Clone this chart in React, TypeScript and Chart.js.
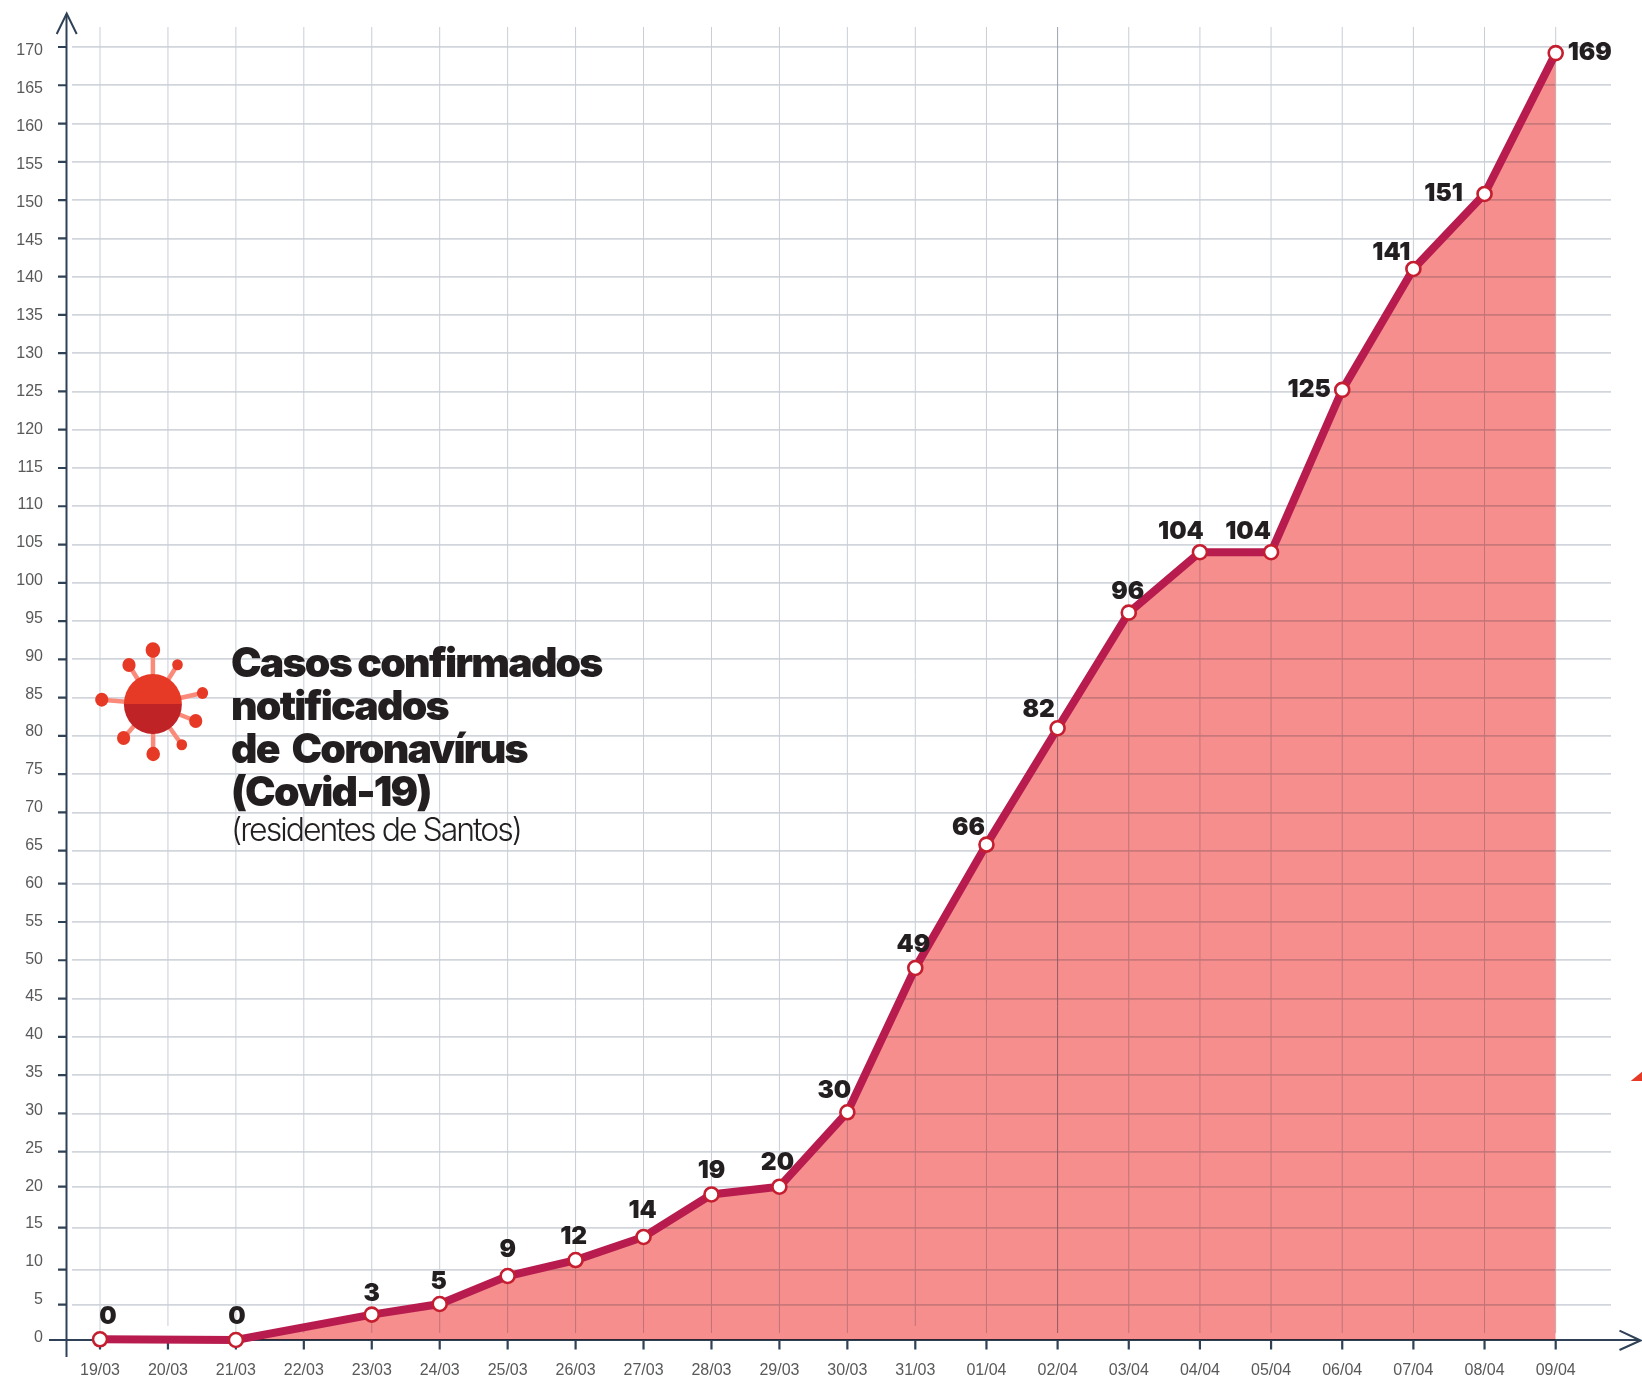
import React, { useEffect, useRef } from "react";
import { Chart, registerables, LinearScale, CategoryScale } from "chart.js";

const dates = ["19/03","20/03","21/03","22/03","23/03","24/03","25/03","26/03","27/03","28/03","29/03","30/03","31/03","01/04","02/04","03/04","04/04","05/04","06/04","07/04","08/04","09/04"];
// Heights of the points as they are plotted in the picture
const plottedCases = [0.1,null,0,null,3.6,5.1,9.1,11.15,13.9,19.05,20,30.15,49,65.8,81,96.1,104,104,125.2,141,150.8,169.2];
// Numbers printed beside the points
const printedCases = [0,null,0,null,3,5,9,12,14,19,20,30,49,66,82,96,104,104,125,141,151,169];
const titleLines = ["Casos confirmados","notificados","de  Coronavírus","(Covid-19)"];
const subtitle = "(residentes de Santos)";

// Hand-drawn axis calibration of the original artwork: [axis value, canvas pixel]
const yCalibration: [number, number][] = [[0,1340],[5,1304.7],[10,1269.7],[15,1227.7],[20,1186.7],[25,1151.7],[60,883.7],[65,850.7],[170,47],[172.6,27]];
const xCalibration: [number, number][] = [[0,100],[12,915.3],[21,1555.7]];
const labelNudges: [number, number][] = [[8,-23],[0,0],[1,-23],[0,0],[0,-21],[-1,-22],[0,-26],[-2,-23],[-1,-26],[0,-24],[-2,-24],[-13,-22],[-2,-23],[-18,-17],[-19,-19],[-1,-21],[-19,-21],[-23,-21],[-33,0],[-22,-16],[-41,0],[34,0]];

function interp(v: number, knots: [number, number][]) {
  let i = 0;
  while (i < knots.length - 2 && v > knots[i + 1][0]) i++;
  const [a, pa] = knots[i];
  const [b, pb] = knots[i + 1];
  return pa + ((v - a) / (b - a)) * (pb - pa);
}

class CalibratedY extends LinearScale {
  static id = "calibratedY";
  static defaults = LinearScale.defaults;
  getPixelForDecimal(d: number) {
    return interp(this.min + d * (this.max - this.min), yCalibration);
  }
}
class CalibratedX extends CategoryScale {
  static id = "calibratedX";
  static defaults = CategoryScale.defaults;
  getPixelForDecimal(d: number) {
    return interp(this.min + d * (this.max - this.min), xCalibration);
  }
}

const INK = "#2F4156";
const FILL_DATASET = 1;

// Registered before the filler so the area multiplies over the grid.
const multiplyFill = {
  id: "multiplyFill",
  beforeDatasetDraw(chart: any, args: any) {
    if (args.index === FILL_DATASET) chart.ctx.globalCompositeOperation = "multiply";
  },
  afterDatasetDraw(chart: any, args: any) {
    if (args.index === FILL_DATASET) chart.ctx.globalCompositeOperation = "source-over";
  },
};
Chart.register(multiplyFill);
Chart.register(...registerables, CalibratedY, CalibratedX);

const axesArt = {
  id: "axesArt",
  beforeDatasetsDraw(chart: any) {
    const { ctx, scales } = chart;
    const xs = scales.x;
    const ys = scales.y;
    const x0 = 66.5;
    const y0 = ys.getPixelForValue(0);
    ctx.save();
    xs.ticks.forEach((_: any, i: number) => {
      const px = xs.getPixelForTick(i);
      ctx.beginPath();
      ctx.lineWidth = 1;
      ctx.strokeStyle = i === 14 ? "#9AA2AE" : "#C9CED6";
      ctx.moveTo(px, 27);
      ctx.lineTo(px, i === 1 || i === 12 ? 1326 : 1333);
      ctx.stroke();
    });
    ctx.strokeStyle = INK;
    ctx.lineWidth = 2;
    ctx.beginPath();
    ctx.moveTo(x0, 14);
    ctx.lineTo(x0, 1357);
    ctx.moveTo(49, y0);
    ctx.lineTo(1640, y0);
    ctx.stroke();
    ctx.lineWidth = 2.2;
    ctx.beginPath();
    ys.ticks.forEach((t: any) => {
      if (t.value === 0) return;
      const py = ys.getPixelForValue(t.value);
      ctx.moveTo(58, py);
      ctx.lineTo(x0, py);
    });
    xs.ticks.forEach((_: any, i: number) => {
      const px = xs.getPixelForTick(i);
      ctx.moveTo(px, y0);
      ctx.lineTo(px, 1349.5);
    });
    ctx.stroke();
    ctx.lineWidth = 2;
    ctx.beginPath();
    ctx.moveTo(56.7, 34);
    ctx.lineTo(66.7, 13.5);
    ctx.lineTo(76.7, 34);
    ctx.moveTo(1619.5, 1330.7);
    ctx.lineTo(1640.5, 1340.5);
    ctx.lineTo(1619.5, 1350);
    ctx.stroke();
    ctx.restore();
  },
};

const pointLabels = {
  id: "pointLabels",
  afterDatasetsDraw(chart: any) {
    const { ctx } = chart;
    const meta = chart.getDatasetMeta(0);
    ctx.save();
    ctx.font = "900 24.5px Inter";
    ctx.fillStyle = "#231F20";
    ctx.textAlign = "center";
    ctx.textBaseline = "middle";
    printedCases.forEach((v, i) => {
      if (v === null) return;
      const p = meta.data[i];
      ctx.fillText(String(v), p.x + labelNudges[i][0], p.y + labelNudges[i][1]);
    });
    ctx.restore();
  },
};

const spikes: [number, number, number][] = [[152.9,650,7.3],[129,665,6.6],[177.5,664.7,5.3],[202.5,693,5.6],[195.7,721,6.6],[181.8,744.7,5.3],[153.2,754,6.8],[123.6,738,6.6],[101.75,699.7,6.6]];

const virusIcon = {
  id: "virusIcon",
  afterDraw(chart: any) {
    const { ctx } = chart;
    const cx = 152.9;
    const cy = 704;
    ctx.save();
    ctx.lineWidth = 4.5;
    ctx.strokeStyle = "#FA8A7A";
    spikes.forEach(([x, y]) => {
      ctx.beginPath();
      ctx.moveTo(cx, cy);
      ctx.lineTo(x, y);
      ctx.stroke();
    });
    ctx.fillStyle = "#E63A26";
    spikes.forEach(([x, y, r]) => {
      ctx.beginPath();
      ctx.ellipse(x, y, r, r * 1.05, 0, 0, Math.PI * 2);
      ctx.fill();
    });
    ctx.beginPath();
    ctx.ellipse(cx, cy, 29, 30, 0, Math.PI, Math.PI * 2);
    ctx.fill();
    ctx.fillStyle = "#BF2326";
    ctx.beginPath();
    ctx.ellipse(cx, cy, 29, 30, 0, 0, Math.PI);
    ctx.fill();
    // cropped red shape at the picture's right edge
    ctx.fillStyle = "#E63A26";
    ctx.beginPath();
    ctx.moveTo(1630.7, 1081);
    ctx.lineTo(1642, 1071.7);
    ctx.lineTo(1642, 1081);
    ctx.closePath();
    ctx.fill();
    ctx.restore();
  },
};

export default function App() {
  const ref = useRef<HTMLCanvasElement | null>(null);
  useEffect(() => {
    document.body.style.margin = "0";
    document.body.style.background = "#fff";
    const chart = new Chart(ref.current as HTMLCanvasElement, {
      type: "line",
      data: {
        labels: dates,
        datasets: [
          {
            data: plottedCases,
            order: 1,
            borderColor: "#B81C4F",
            borderWidth: 8,
            borderCapStyle: "round",
            borderJoinStyle: "miter",
            pointRadius: 7,
            pointBorderWidth: 2.6,
            pointBackgroundColor: "#FFFFFF",
            pointBorderColor: "#C41E30",
            spanGaps: true,
            tension: 0,
            fill: false,
            clip: false,
          },
          {
            data: plottedCases,
            order: 2,
            borderWidth: 0,
            pointRadius: 0,
            backgroundColor: "#F58E8D",
            spanGaps: true,
            tension: 0,
            fill: "origin",
            clip: false,
          },
        ],
      } as any,
      options: {
        animation: false,
        responsive: false,
        events: [],
        layout: { padding: { left: 0, top: 27, right: 31, bottom: 0 } },
        plugins: { legend: { display: false }, tooltip: { enabled: false }, title: { display: false } },
        scales: {
          x: {
            type: "calibratedX",
            afterFit(s: any) { s.height = 40; s.paddingLeft = 0; s.paddingRight = 0; },
            grid: { display: false },
            border: { display: false },
            ticks: {
              autoSkip: false,
              maxRotation: 0,
              padding: 13,
              color: "#58595B",
              font: { family: "'Liberation Sans'", size: 16 },
            },
          },
          y: {
            type: "calibratedY",
            position: "left",
            min: 0,
            max: 172.6,
            afterFit(s: any) { s.width = 0; s.paddingTop = 0; s.paddingBottom = 0; },
            border: { display: false },
            grid: {
              drawTicks: false,
              lineWidth: 1.7,
              color: (c: any) => (c.tick && c.tick.value === 0 ? "rgba(0,0,0,0)" : "#D2D6DC"),
            },
            ticks: { display: false, stepSize: 5, includeBounds: false, autoSkip: false },
          },
          yLabels: {
            type: "linear",
            position: "left",
            min: -0.33,
            max: 173.17,
            afterFit(s: any) { s.width = 72; s.paddingTop = 0; s.paddingBottom = 0; },
            border: { display: false },
            grid: { display: false, drawTicks: false },
            ticks: {
              stepSize: 5,
              includeBounds: false,
              autoSkip: false,
              padding: 29,
              color: "#58595B",
              font: { family: "'Liberation Sans'", size: 16 },
              callback: (v: any) => String(v),
            },
          },
        },
      } as any,
      plugins: [axesArt, pointLabels, virusIcon],
    });
    return () => chart.destroy();
  }, []);

  return (
    <div style={{ position: "absolute", left: 0, top: 0, width: 1642, height: 1380, background: "#fff", overflow: "hidden" }}>
      <canvas ref={ref} width={1642} height={1380} style={{ display: "block" }} />
      <div style={{ position: "absolute", left: 231, top: 641, color: "#231F20", fontFamily: "Inter", fontWeight: 900, fontSize: 41, lineHeight: "43px", letterSpacing: "-1.8px", whiteSpace: "pre" }}>
        {titleLines.map((l) => (
          <div key={l}>{l}</div>
        ))}
        <div style={{ fontFamily: "Inter", fontWeight: 300, fontSize: 32, lineHeight: "34px", letterSpacing: "-2px" }}>{subtitle}</div>
      </div>
    </div>
  );
}
